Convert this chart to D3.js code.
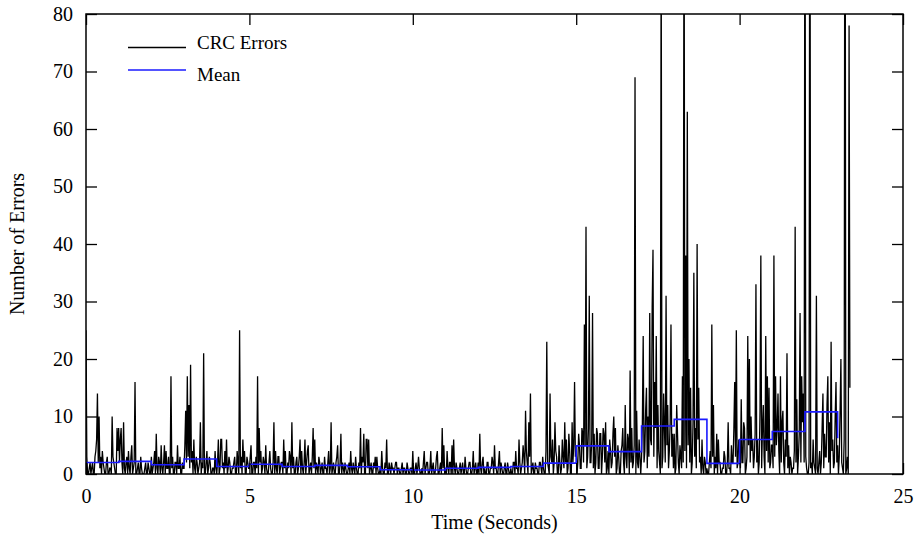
<!DOCTYPE html>
<html>
<head>
<meta charset="utf-8">
<script src="https://cdn.jsdelivr.net/npm/d3@7"></script>
<style>
  html, body { margin: 0; padding: 0; background: #fff; }
  svg { display: block; }
  text { font-family: "Liberation Serif", "Times New Roman", serif; fill: #000; }
</style>
</head>
<body>
<svg id="chart" width="922" height="541"></svg>
<script>
// ---- data ----
const sampleStep = 0.025; // seconds between samples
const crcErrors = [
  // 0 s
  25,3,0,0,1,2,0,1,2,0,0,3,4,6,14,2,10,1,3,0,4,2,1,0,0,2,3,0,0,1,1,0,10,3,2,1,0,0,8,4,
  // 1 s
  8,2,6,8,2,0,9,1,0,2,3,0,4,1,0,3,5,0,1,2,16,0,0,1,2,0,0,3,1,0,0,0,1,2,0,0,2,1,0,0,
  // 2 s
  3,0,1,2,4,0,7,1,0,3,2,0,5,1,0,2,5,0,4,1,1,3,0,0,17,1,3,0,0,2,2,0,5,1,1,3,0,0,2,1,
  // 3 s
  1,5,11,2,17,3,12,1,19,2,4,0,6,1,0,3,2,0,1,2,9,0,2,1,21,0,0,2,4,0,1,3,2,0,0,1,1,0,4,1,
  // 4 s
  0,2,6,0,1,6,6,1,2,0,4,1,6,0,1,3,2,0,0,1,1,2,3,0,0,4,2,0,25,1,3,0,6,2,4,0,0,3,2,1,
  // 5 s
  1,3,5,0,0,2,2,0,3,1,17,0,8,2,4,0,1,3,2,0,5,1,0,0,2,4,1,0,0,2,9,0,4,1,0,3,3,0,1,2,
  // 6 s
  2,0,6,1,4,0,0,2,1,4,3,0,9,1,3,0,0,2,3,0,1,3,6,0,4,1,0,2,6,0,2,4,5,0,1,2,0,3,8,1,
  // 7 s
  6,0,2,1,0,3,2,0,1,2,0,0,3,1,1,0,2,4,0,1,9,0,1,2,0,0,2,3,5,0,0,2,7,0,2,1,0,2,1,0,
  // 8 s
  0,1,2,0,4,1,0,2,1,0,3,1,0,0,2,1,8,0,3,2,7,0,0,6,6,1,6,0,1,2,0,0,2,1,3,0,3,1,0,0,
  // 9 s
  1,0,4,1,0,0,2,1,6,0,0,2,1,0,2,1,1,0,1,2,2,0,1,1,0,0,1,2,0,1,1,0,0,2,1,0,0,1,1,0,
  // 10 s
  4,0,0,1,2,0,1,3,1,0,0,1,0,2,4,0,1,2,2,0,0,1,4,0,1,2,0,0,1,3,4,0,0,1,2,0,8,1,5,0,
  // 11 s
  1,0,4,1,0,2,2,0,5,0,6,1,0,2,1,0,0,1,2,0,1,2,0,0,3,1,0,0,1,2,2,0,0,1,4,0,1,2,0,0,
  // 12 s
  2,0,7,1,0,2,3,0,1,0,0,2,2,0,0,1,1,3,2,0,5,1,1,0,0,2,4,0,2,1,0,0,1,2,0,0,2,1,0,0,
  // 13 s
  1,0,0,2,2,0,4,1,1,0,6,2,0,1,2,5,3,0,11,4,2,0,9,3,14,0,1,2,0,0,2,1,1,0,0,2,2,1,0,3,
  // 14 s
  1,0,0,4,23,2,1,0,14,3,2,6,0,2,9,4,3,0,0,5,2,0,1,6,3,1,9,2,6,0,1,7,4,0,0,9,2,5,16,3,
  // 15 s
  4,0,2,7,5,1,1,8,7,2,26,5,43,1,3,8,31,2,2,6,28,1,7,0,2,8,7,1,1,7,7,0,3,8,7,2,9,0,1,4,
  // 16 s
  0,6,4,1,2,7,10,3,8,0,1,5,3,0,0,4,5,8,2,0,12,3,1,7,6,0,18,2,8,1,2,5,69,0,11,2,1,6,3,0,
  // 17 s
  3,9,24,2,4,11,15,1,10,3,28,6,5,29,39,3,16,8,24,1,12,4,2,0,95,1,3,14,8,2,31,5,12,1,4,9,26,3,7,1,
  // 18 s
  7,0,1,12,7,2,0,5,3,1,17,2,110,4,38,1,63,5,20,2,15,0,2,9,35,3,8,1,40,6,15,2,3,0,6,1,0,3,2,0,
  // 19 s
  1,0,0,2,4,1,26,3,12,0,3,1,7,0,6,2,2,0,0,1,1,4,3,0,0,2,9,1,1,0,5,2,2,8,16,3,25,1,2,6,
  // 20 s
  4,1,13,2,2,9,8,0,1,3,24,5,20,2,10,4,6,1,3,7,33,2,6,0,2,11,38,1,8,12,3,0,24,4,17,2,15,1,2,5,
  // 21 s
  5,1,38,3,17,5,8,14,4,0,17,2,9,11,2,0,6,3,21,1,5,0,3,2,0,1,1,4,43,2,13,0,3,7,28,2,17,9,14,2,
  // 22 s
  120,3,1,0,0,2,130,1,2,0,6,2,1,0,31,1,0,2,4,0,2,8,14,1,7,3,3,12,17,2,9,0,23,4,6,1,2,10,16,2,
  // 23 s
  5,0,3,11,20,2,1,0,6,140,0,1,3,0,78,15
];
const meanSeconds = [0,1,2,3,4,5,6,7,8,9,10,11,12,13,14,15,16,17,18,19,20,21,22,23];
const meanValues  = [2.0,2.2,1.6,2.6,1.3,1.7,1.3,1.5,1.25,0.75,0.7,1.0,1.15,1.3,1.9,4.9,3.9,8.35,9.5,1.85,6.0,7.4,10.8,6.2];
const xTicks = [0,5,10,15,20,25];
const yTicks = [0,10,20,30,40,50,60,70,80];
const legendLabels = ["CRC Errors", "Mean"];
const xTitle = "Time (Seconds)";
const yTitle = "Number of Errors";

// ---- layout ----
const pL = 86, pR = 903, pT = 14, pB = 474;
const svg = d3.select("#chart");

const x = d3.scaleLinear().domain([0, 25]).range([pL, pR]);
const y = d3.scaleLinear().domain([0, 80]).range([pB, pT]);

svg.append("defs").append("clipPath").attr("id", "plotClip")
  .append("rect").attr("x", pL).attr("y", pT)
  .attr("width", pR - pL).attr("height", pB - pT);

// data line
const pts = crcErrors.map((v, i) => [i * sampleStep, v]);
const line = d3.line().x(d => x(d[0])).y(d => y(d[1]));
svg.append("path")
  .attr("clip-path", "url(#plotClip)")
  .attr("d", line(pts))
  .attr("fill", "none")
  .attr("stroke", "#000")
  .attr("stroke-width", 1.3)
  .attr("stroke-linejoin", "miter");

// mean step line
const meanPts = meanSeconds.map((s, i) => [s, meanValues[i]]);
const meanLine = d3.line().x(d => x(d[0])).y(d => y(d[1])).curve(d3.curveStepAfter);
svg.append("path")
  .attr("clip-path", "url(#plotClip)")
  .attr("d", meanLine(meanPts))
  .attr("fill", "none")
  .attr("stroke", "#1a1aff")
  .attr("stroke-width", 1.6);

// axes
const tick = 11;
const gB = svg.append("g").attr("transform", `translate(0,${pB})`)
  .call(d3.axisBottom(x).tickValues(xTicks).tickFormat(d3.format("d"))
    .tickSizeInner(-tick).tickSizeOuter(0).tickPadding(15));
const gL = svg.append("g").attr("transform", `translate(${pL},0)`)
  .call(d3.axisLeft(y).tickValues(yTicks).tickFormat(d3.format("d"))
    .tickSizeInner(-tick).tickSizeOuter(0).tickPadding(13));
const gT = svg.append("g").attr("transform", `translate(0,${pT})`)
  .call(d3.axisTop(x).tickValues(xTicks).tickFormat("")
    .tickSizeInner(-tick).tickSizeOuter(0));
const gR = svg.append("g").attr("transform", `translate(${pR},0)`)
  .call(d3.axisRight(y).tickValues(yTicks).tickFormat("")
    .tickSizeInner(-tick).tickSizeOuter(0));

[gB, gL, gT, gR].forEach(g => {
  g.select(".domain").remove();
  g.selectAll(".tick line").attr("stroke", "#000").attr("stroke-width", 1.3);
  g.selectAll("text").attr("font-size", 20).attr("fill", "#000")
    .style("font-family", "'Liberation Serif', 'Times New Roman', serif");
});

// frame
svg.append("rect")
  .attr("x", pL).attr("y", pT)
  .attr("width", pR - pL).attr("height", pB - pT)
  .attr("fill", "none").attr("stroke", "#000").attr("stroke-width", 1.5);

// titles
svg.append("text")
  .attr("x", (pL + pR) / 2).attr("y", 529)
  .attr("text-anchor", "middle").attr("font-size", 20)
  .text(xTitle);
svg.append("text")
  .attr("transform", `translate(24,${(pT + pB) / 2}) rotate(-90)`)
  .attr("text-anchor", "middle").attr("font-size", 20)
  .text(yTitle);

// legend
const legendColors = ["#000", "#1a1aff"];
const legendLineY = [47.5, 70];
const legendTextY = [49, 81];
legendLabels.forEach((lab, i) => {
  svg.append("line")
    .attr("x1", 128).attr("x2", 186)
    .attr("y1", legendLineY[i]).attr("y2", legendLineY[i])
    .attr("stroke", legendColors[i]).attr("stroke-width", 1.3);
  svg.append("text")
    .attr("x", 197).attr("y", legendTextY[i])
    .attr("font-size", 19)
    .text(lab);
});
</script>
</body>
</html>
